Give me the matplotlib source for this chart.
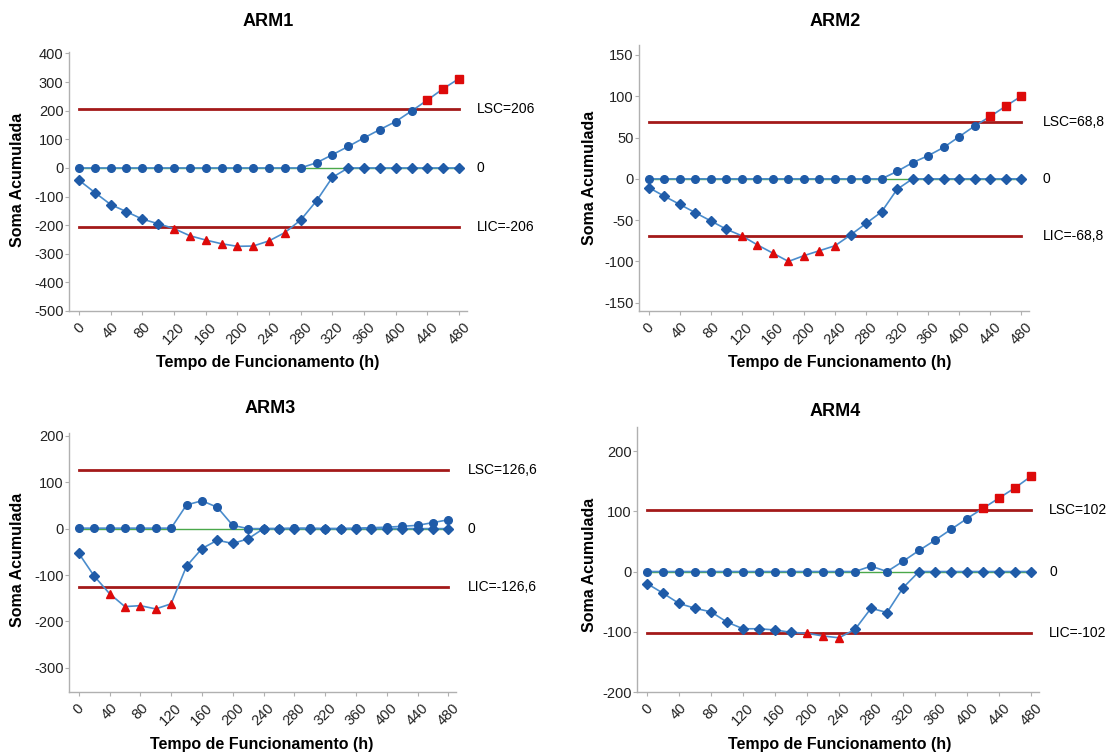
import matplotlib
matplotlib.use('Agg')
import matplotlib.pyplot as plt
import numpy as np

plt.rcParams['font.family'] = ['Liberation Sans', 'DejaVu Sans']
plt.rcParams['axes.unicode_minus'] = False

# tempo de funcionamento (h)
tempo = np.arange(0, 481, 20)

# somas acumuladas (superior = circulos, inferior = losangos)
arm1_sup = [0, 0, 0, 0, 0, 0, 0, 0, 0, 0, 0, 0, 0, 0, 0, 18, 46, 75, 105, 134, 162, 199, 237, 277, 312]
arm1_inf = [-43, -86, -128, -153, -179, -195, -212, -237, -252, -265, -274, -273, -255, -226, -182, -115, -33,
            0, 0, 0, 0, 0, 0, 0, 0]
arm2_sup = [0, 0, 0, 0, 0, 0, 0, 0, 0, 0, 0, 0, 0, 0, 0, 0, 9, 19.6, 28, 38, 51, 64, 75.5, 88, 100]
arm2_inf = [-10.6, -21, -31, -41, -51, -61, -69, -80, -90, -100, -93, -87, -81, -68, -54, -40, -12.7,
            0, 0, 0, 0, 0, 0, 0, 0]
arm3_sup = [1, 1, 1, 1, 1, 1, 1, 51, 60, 46, 7, 0, 0, 0, 1, 1, 0, 0, 1, 2, 3, 5, 7, 13, 19]
arm3_inf = [-53, -102, -140, -168, -166, -173, -162, -81, -43, -25, -32, -22,
            0, 0, 0, 0, 0, 0, 0, 0, 0, 0, 0, 0, 0]
arm4_sup = [0, 0, 0, 0, 0, 0, 0, 0, 0, 0, 0, 0, 0, 0, 9, 0, 17, 35, 52, 70, 88, 105, 122, 139, 158]
arm4_inf = [-20, -36, -53, -61, -67, -84, -95, -95, -97, -101, -102.5, -107, -110, -96, -61, -68, -27,
            0, 0, 0, 0, 0, 0, 0, 0]

# limites de controle
arm1_lim = 206
arm2_lim = 68.8
arm3_lim = 126.6
arm4_lim = 102
arm1_txt = ('LSC=206', 'LIC=-206')
arm2_txt = ('LSC=68,8', 'LIC=-68,8')
arm3_txt = ('LSC=126,6', 'LIC=-126,6')
arm4_txt = ('LSC=102', 'LIC=-102')

azul = '#1f5ba8'
linha = '#4a8ccc'
vermelho = '#dd0a0a'
limite = '#a31919'
verde = '#4aa84a'

W, H = 1112, 755
fig = plt.figure(figsize=(W / 100, H / 100), dpi=100)


def px_axes(left, top, width, height):
    return fig.add_axes([left / W, 1 - (top + height) / H, width / W, height / H])


def painel(ax, titulo, sup, inf, lim, txt, ylim, yticks, tit_xy, xl_xy, yl_xy, lab_x):
    sup = np.array(sup, dtype=float)
    inf = np.array(inf, dtype=float)
    ax.plot([tempo[0], tempo[-1]], [lim, lim], color=limite, lw=2, zorder=1)
    ax.plot([tempo[0], tempo[-1]], [-lim, -lim], color=limite, lw=2, zorder=1)
    ax.plot([tempo[0], tempo[-1]], [0, 0], color=verde, lw=1, zorder=1)

    ax.plot(tempo, sup, color=linha, lw=1.2, zorder=2)
    ax.plot(tempo, inf, color=linha, lw=1.2, zorder=2)

    fora_s = sup > lim
    fora_i = inf < -lim
    ax.plot(tempo[~fora_s], sup[~fora_s], 'o', color=azul, ms=5.5, zorder=4)
    ax.plot(tempo[fora_s], sup[fora_s], 's', color=vermelho, ms=5.5, zorder=4)
    ax.plot(tempo[~fora_i], inf[~fora_i], 'D', color=azul, ms=5.5, zorder=3)
    ax.plot(tempo[fora_i], inf[fora_i], '^', color=vermelho, ms=6, zorder=3)

    ax.set_xlim(-12.6, 490)
    ax.set_ylim(*ylim)
    ax.set_yticks(yticks)
    ax.set_xticks(np.arange(0, 481, 40))
    ax.set_xticklabels([str(v) for v in range(0, 481, 40)], rotation=45, ha='center', va='top')
    for s in ['top', 'right']:
        ax.spines[s].set_visible(False)
    for s in ['left', 'bottom']:
        ax.spines[s].set_color('#b0b0b0')
        ax.spines[s].set_linewidth(1)
    ax.tick_params(axis='both', colors='#b0b0b0', labelcolor='#222222', labelsize=10.5, length=3)
    ax.tick_params(axis='y', pad=1)

    tr = ax.get_yaxis_transform()
    ax.text(lab_x, lim, txt[0], transform=tr, fontsize=10, va='center')
    ax.text(lab_x, 0, '0', transform=tr, fontsize=10, va='center')
    ax.text(lab_x, -lim, txt[1], transform=tr, fontsize=10, va='center')

    fig.text(tit_xy[0] / W, 1 - tit_xy[1] / H, titulo, fontsize=13, fontweight='bold', ha='center', va='center')
    fig.text(xl_xy[0] / W, 1 - xl_xy[1] / H, 'Tempo de Funcionamento (h)', fontsize=11.5,
             fontweight='bold', ha='center', va='center')
    fig.text(yl_xy[0] / W, 1 - yl_xy[1] / H, 'Soma Acumulada', fontsize=11.5, fontweight='bold',
             rotation=90, ha='center', va='center')


ax1 = px_axes(69, 52, 398, 259)
painel(ax1, 'ARM1', arm1_sup, arm1_inf, arm1_lim, arm1_txt, (-500, 405), np.arange(-500, 401, 100),
       (268, 22), (268, 363), (18, 180), 1.025)

ax2 = px_axes(639, 45, 390, 266)
painel(ax2, 'ARM2', arm2_sup, arm2_inf, arm2_lim, arm2_txt, (-160, 162), np.arange(-150, 151, 50),
       (835, 22), (840, 363), (590, 178), 1.035)

ax3 = px_axes(69, 433, 387, 259)
painel(ax3, 'ARM3', arm3_sup, arm3_inf, arm3_lim, arm3_txt, (-352, 206), np.arange(-300, 201, 100),
       (270, 409), (262, 745), (18, 560), 1.03)

ax4 = px_axes(637, 427, 402, 265)
painel(ax4, 'ARM4', arm4_sup, arm4_inf, arm4_lim, arm4_txt, (-200, 240), np.arange(-200, 201, 100),
       (835, 411), (840, 745), (590, 565), 1.025)

fig.savefig('out.png', dpi=100)
